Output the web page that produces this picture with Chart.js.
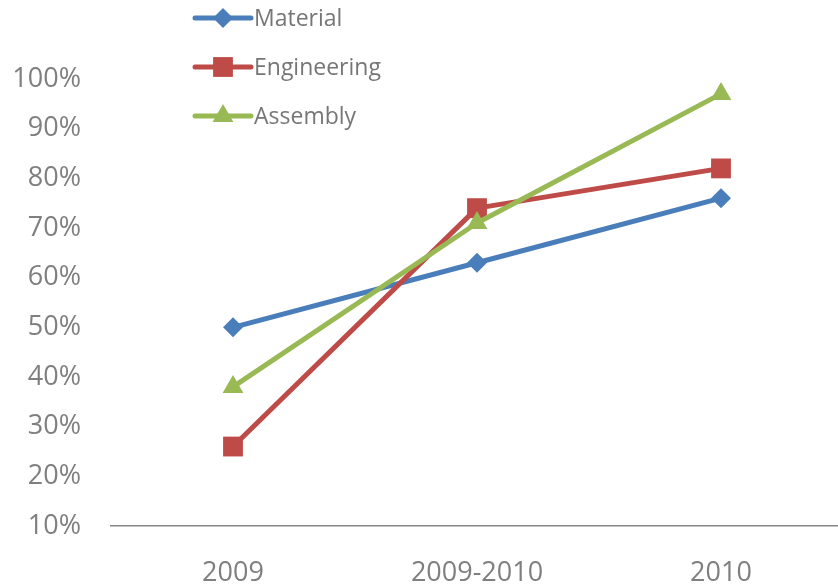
<!DOCTYPE html>
<html>
<head>
<meta charset="utf-8">
<title>Material / Engineering / Assembly</title>
<script src="https://cdn.jsdelivr.net/npm/chart.js@4"></script>
<style>
    html, body { margin: 0; padding: 0; overflow: hidden; background: #fff; }
    #grafico { position: absolute; left: 0; top: 0; width: 857px; height: 587px; }
</style>
</head>
<body>
<canvas id="grafico" width="857" height="587"></canvas>
<script>
// Datos
const categorias = ['2009', '2009-2010', '2010'];
const material = [50, 63, 76];
const engineering = [26, 74, 82];
const assembly = [38, 71, 97];
const yMin = 10;
const yMax = 100;
const yPaso = 10;

const azul = '#4A7EBB';
const rojo = '#BE4B48';
const verde = '#98B954';
const gris = '#7F7F7F';

// Dibuja un marcador igual que Chart.js
function dibujarMarcador(ctx, estilo, x, y, r) {
    ctx.beginPath();
    if (estilo === 'rectRot') {
        ctx.moveTo(x - r, y);
        ctx.lineTo(x, y - r);
        ctx.lineTo(x + r, y);
        ctx.lineTo(x, y + r);
    } else if (estilo === 'rect') {
        const s = Math.SQRT1_2 * r;
        ctx.rect(x - s, y - s, 2 * s, 2 * s);
    } else {
        ctx.moveTo(x, y - r);
        ctx.lineTo(x + Math.sin(2 * Math.PI / 3) * r, y + r / 2);
        ctx.lineTo(x - Math.sin(2 * Math.PI / 3) * r, y + r / 2);
    }
    ctx.closePath();
    ctx.fill();
}

// Leyenda vertical arriba a la izquierda
const leyendaPlugin = {
    id: 'leyendaVertical',
    afterDraw(chart) {
        const ctx = chart.ctx;
        const items = chart.data.datasets.slice().sort((a, b) => a.fila - b.fila);
        ctx.save();
        items.forEach((ds, i) => {
            const y = 18 + i * 49;
            ctx.strokeStyle = ds.borderColor;
            ctx.fillStyle = ds.borderColor;
            ctx.lineWidth = 5;
            ctx.lineCap = 'round';
            ctx.beginPath();
            ctx.moveTo(195, y);
            ctx.lineTo(251, y);
            ctx.stroke();
            dibujarMarcador(ctx, ds.pointStyle, 223, y, ds.pointRadius);
            ctx.fillStyle = '#767676';
            ctx.font = '23px "Open Sans"';
            ctx.textBaseline = 'middle';
            ctx.textAlign = 'left';
            ctx.fillText(ds.label, 254, y + 1);
        });
        ctx.restore();
    }
};

function serie(label, data, color, estilo, radio, orden, fila) {
    return {
        label: label,
        data: data,
        borderColor: color,
        backgroundColor: color,
        borderWidth: 5,
        pointStyle: estilo,
        pointRadius: radio,
        pointHoverRadius: radio,
        pointBorderWidth: 0,
        pointBackgroundColor: color,
        borderJoinStyle: 'round',
        tension: 0,
        order: orden,
        fila: fila
    };
}

document.addEventListener('DOMContentLoaded', () => {
    const ctx = document.getElementById('grafico').getContext('2d');
    new Chart(ctx, {
        type: 'line',
        data: {
            labels: categorias,
            datasets: [
                serie('Material', material, azul, 'rectRot', 10, 2, 0),
                serie('Engineering', engineering, rojo, 'rect', 14, 1, 1),
                serie('Assembly', assembly, verde, 'triangle', 12, 0, 2)
            ]
        },
        options: {
            responsive: false,
            maintainAspectRatio: false,
            animation: false,
            devicePixelRatio: 1,
            layout: { padding: { top: 79, right: 2, left: 0, bottom: 0 } },
            plugins: {
                legend: { display: false },
                tooltip: { enabled: false }
            },
            scales: {
                x: {
                    offset: true,
                    grid: { display: false, drawTicks: false },
                    border: { display: true, color: '#868686', width: 1.5 },
                    ticks: {
                        color: gris,
                        padding: 31,
                        font: { family: 'Open Sans', size: 27 }
                    },
                    afterFit(scale) { scale.height = 61; }
                },
                y: {
                    min: yMin,
                    max: yMax,
                    grid: { display: false, drawTicks: false },
                    border: { display: false },
                    ticks: {
                        stepSize: yPaso,
                        color: gris,
                        padding: 30,
                        font: { family: 'Open Sans', size: 27 },
                        callback: v => v + '%'
                    },
                    afterFit(scale) { scale.width = 111; }
                }
            }
        },
        plugins: [leyendaPlugin]
    });
});
</script>
</body>
</html>
